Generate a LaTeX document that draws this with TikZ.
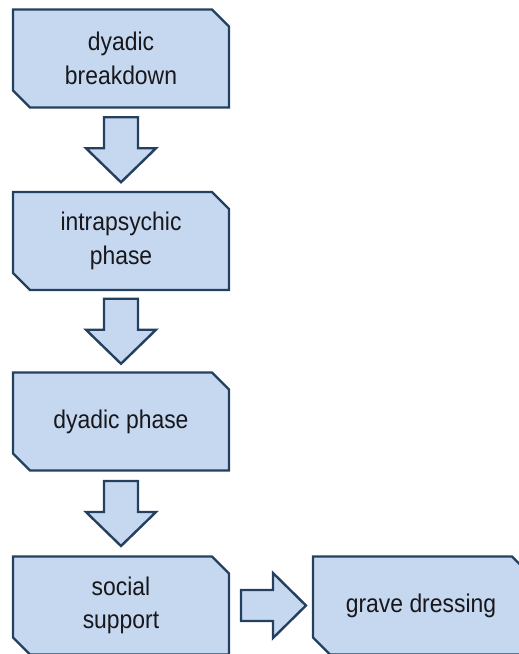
\documentclass[tikz,border=0pt]{standalone}
\usepackage{fontspec}
\setmainfont{Liberation Sans}[FakeStretch=0.895]
\usetikzlibrary{shapes.misc,calc}

\definecolor{stagefill}{HTML}{C6D8EF}
\definecolor{stageline}{HTML}{24405F}
\definecolor{stagetext}{HTML}{17171C}

\tikzset{
  stagebox/.style={
    chamfered rectangle,
    chamfered rectangle corners={north east,south west},
    chamfered rectangle xsep=8.5pt,
    chamfered rectangle ysep=8.5pt,
    minimum width=216pt, minimum height=98pt,
    inner sep=0pt, outer sep=0pt,
    fill=stagefill, draw=stageline, line width=2.4pt,
    text=stagetext, align=center,
    font=\fontsize{25.6}{33.4}\selectfont
  },
  blockarrow/.style={
    fill=stagefill, draw=stageline, line width=2.4pt, line join=miter
  }
}

\begin{document}
\begin{tikzpicture}[x=1pt,y=-1pt]
  \useasboundingbox (0,0) rectangle (519,654);

  % the five stages
  \node[stagebox] (b1) at (121,58.5)  {dyadic\\breakdown};
  \node[stagebox] (b2) at (121,241)   {intrapsychic\\phase};
  \node[stagebox] (b3) at (121,421.5) {dyadic phase};
  \node[stagebox] (b4) at (121,605.5) {social\\support};
  \node[stagebox] (b5) at (421,605.5) {grave dressing};

  % centre points between neighbouring stages
  \coordinate (m12) at ($(b1.south)!0.5!(b2.north)$);
  \coordinate (m23) at ($(b2.south)!0.5!(b3.north)$);
  \coordinate (m34) at ($(b3.south)!0.5!(b4.north)$);
  \coordinate (m45) at ($(b4.east)!0.5!(b5.west)$);

  % downward block arrows
  \foreach \m in {m12,m23,m34}{
    \draw[blockarrow] (\m) ++(-17,-32.5) -- ++(34,0) -- ++(0,31)
      -- ++(18,0) -- ++(-35,34) -- ++(-35,-34) -- ++(18,0) -- cycle;
  }

  % rightward block arrow
  \draw[blockarrow] (m45) ++(-30,-15.5) -- ++(32,0) -- ++(0,-17)
    -- ++(33,32.5) -- ++(-33,32.5) -- ++(0,-17) -- ++(-32,0) -- cycle;
\end{tikzpicture}
\end{document}
